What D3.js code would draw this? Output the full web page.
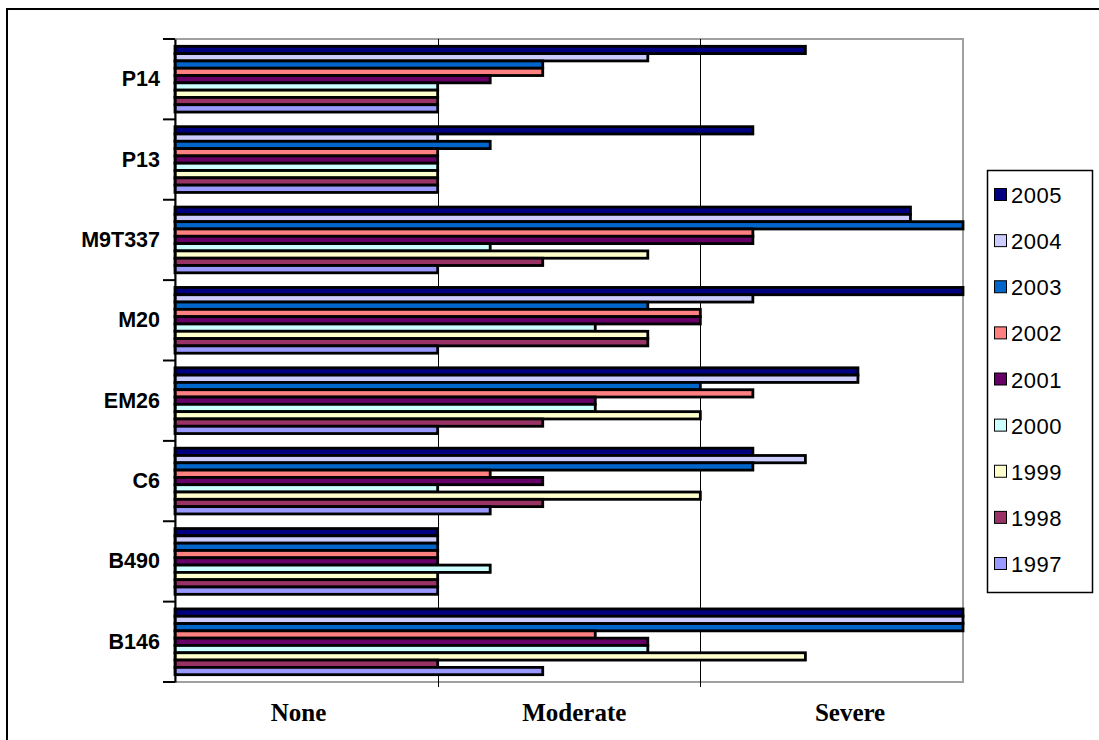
<!DOCTYPE html>
<html>
<head>
<meta charset="utf-8">
<script src="https://cdn.jsdelivr.net/npm/d3@7"></script>
<style>
  html, body { margin: 0; padding: 0; background: #fff; }
  svg { display: block; }
</style>
</head>
<body>
<svg id="chart" width="1099" height="740"></svg>
<script>
// Rootstock categories, top to bottom
const categories = ["P14", "P13", "M9T337", "M20", "EM26", "C6", "B490", "B146"];
// Years, drawn top to bottom within each group
const years = ["2005", "2004", "2003", "2002", "2001", "2000", "1999", "1998", "1997"];
// Severity scores (0 = none ... 3 = severe), one array per year, aligned with categories
const v2005 = [2.4, 2.2, 2.8, 3.0, 2.6, 2.2, 1.0, 3.0];
const v2004 = [1.8, 1.0, 2.8, 2.2, 2.6, 2.4, 1.0, 3.0];
const v2003 = [1.4, 1.2, 3.0, 1.8, 2.0, 2.2, 1.0, 3.0];
const v2002 = [1.4, 1.0, 2.2, 2.0, 2.2, 1.2, 1.0, 1.6];
const v2001 = [1.2, 1.0, 2.2, 2.0, 1.6, 1.4, 1.0, 1.8];
const v2000 = [1.0, 1.0, 1.2, 1.6, 1.6, 1.0, 1.2, 1.8];
const v1999 = [1.0, 1.0, 1.8, 1.8, 2.0, 2.0, 1.0, 2.4];
const v1998 = [1.0, 1.0, 1.4, 1.8, 1.4, 1.4, 1.0, 1.0];
const v1997 = [1.0, 1.0, 1.0, 1.0, 1.0, 1.2, 1.0, 1.4];
const seriesValues = [v2005, v2004, v2003, v2002, v2001, v2000, v1999, v1998, v1997];
const seriesColors = ["#000080", "#CCCCFF", "#0066CC", "#FF8080", "#660066",
                      "#CCFFFF", "#FFFFCC", "#993366", "#9999FF"];
// Severity labels along the bottom
const severityLabels = ["None", "Moderate", "Severe"];
const severityPos = [0.47, 1.52, 2.57];

const svg = d3.select("#chart");

// Outer frame (left and top edges visible)
svg.append("path")
  .attr("d", "M7,760 V9 H1110")
  .attr("fill", "none").attr("stroke", "#000").attr("stroke-width", 2);

const x = d3.scaleLinear().domain([0, 3]).range([175, 963]);
const y0 = d3.scaleBand().domain(categories).range([39, 682]);
const y1 = d3.scaleBand().domain(years).range([0, y0.bandwidth()]).paddingOuter(1.0).paddingInner(0);
const color = d3.scaleOrdinal().domain(years).range(seriesColors);

// Plot area border
svg.append("rect")
  .attr("x", x(0)).attr("y", 39)
  .attr("width", x(3) - x(0)).attr("height", 682 - 39)
  .attr("fill", "#fff").attr("stroke", "#a0a0a0").attr("stroke-width", 2);

// Vertical gridlines at 1 and 2, with small tick extensions
svg.append("g")
  .selectAll("line")
  .data([1, 2])
  .join("line")
  .attr("x1", d => Math.round(x(d)) + 0.5).attr("x2", d => Math.round(x(d)) + 0.5)
  .attr("y1", 39).attr("y2", 687)
  .attr("stroke", "#000").attr("stroke-width", 1);

// Bars
const rows = [];
categories.forEach((c, ci) => {
  years.forEach((yr, si) => rows.push({ cat: c, year: yr, value: seriesValues[si][ci] }));
});

svg.append("g")
  .selectAll("rect")
  .data(rows)
  .join("rect")
  .attr("x", x(0))
  .attr("y", d => y0(d.cat) + y1(d.year))
  .attr("width", d => x(d.value) - x(0))
  .attr("height", y1.bandwidth())
  .attr("fill", d => color(d.year))
  .attr("stroke", "#000")
  .attr("stroke-width", 2.8);

// Category axis on the left
const yAxis = d3.axisLeft(y0).tickSize(0).tickFormat(() => "");
const gAxis = svg.append("g").attr("transform", `translate(${x(0)},0)`).call(yAxis);
gAxis.select(".domain").attr("stroke", "#000").attr("stroke-width", 2);

// Tick marks on group boundaries
const boundaries = categories.map(c => y0(c)).concat([682]);
svg.append("g")
  .selectAll("line")
  .data(boundaries)
  .join("line")
  .attr("x1", 163).attr("x2", x(0))
  .attr("y1", d => d).attr("y2", d => d)
  .attr("stroke", "#000").attr("stroke-width", 2);

// Category labels
svg.append("g")
  .selectAll("text")
  .data(categories)
  .join("text")
  .attr("x", 160)
  .attr("y", d => y0(d) + y0.bandwidth() / 2 + 7)
  .attr("text-anchor", "end")
  .attr("font-family", "Arial, 'Liberation Sans', sans-serif")
  .attr("font-weight", "bold")
  .attr("font-size", 21.5)
  .attr("fill", "#000")
  .text(d => d);

// Severity labels
svg.append("g")
  .selectAll("text")
  .data(severityLabels)
  .join("text")
  .attr("x", (d, i) => x(severityPos[i]))
  .attr("y", 721)
  .attr("text-anchor", "middle")
  .attr("font-family", "'Liberation Serif', 'Times New Roman', serif")
  .attr("font-weight", "bold")
  .attr("font-size", 25)
  .attr("fill", "#000")
  .text(d => d);

// Legend
const legend = svg.append("g");
legend.append("rect")
  .attr("x", 987.5).attr("y", 170.5)
  .attr("width", 105).attr("height", 422)
  .attr("fill", "#fff").attr("stroke", "#000").attr("stroke-width", 1.5);

const ly = d3.scalePoint().domain(years).range([195, 564]);
const items = legend.selectAll("g.item")
  .data(years)
  .join("g")
  .attr("class", "item")
  .attr("transform", d => `translate(0,${ly(d)})`);
items.append("rect")
  .attr("x", 994.5).attr("y", -6.5)
  .attr("width", 12).attr("height", 12)
  .attr("fill", d => color(d))
  .attr("stroke", "#000").attr("stroke-width", 1);
items.append("text")
  .attr("x", 1011).attr("y", 8)
  .attr("font-family", "Arial, 'Liberation Sans', sans-serif")
  .attr("font-size", 22)
  .attr("letter-spacing", 0.5)
  .attr("fill", "#000")
  .text(d => d);
</script>
</body>
</html>
